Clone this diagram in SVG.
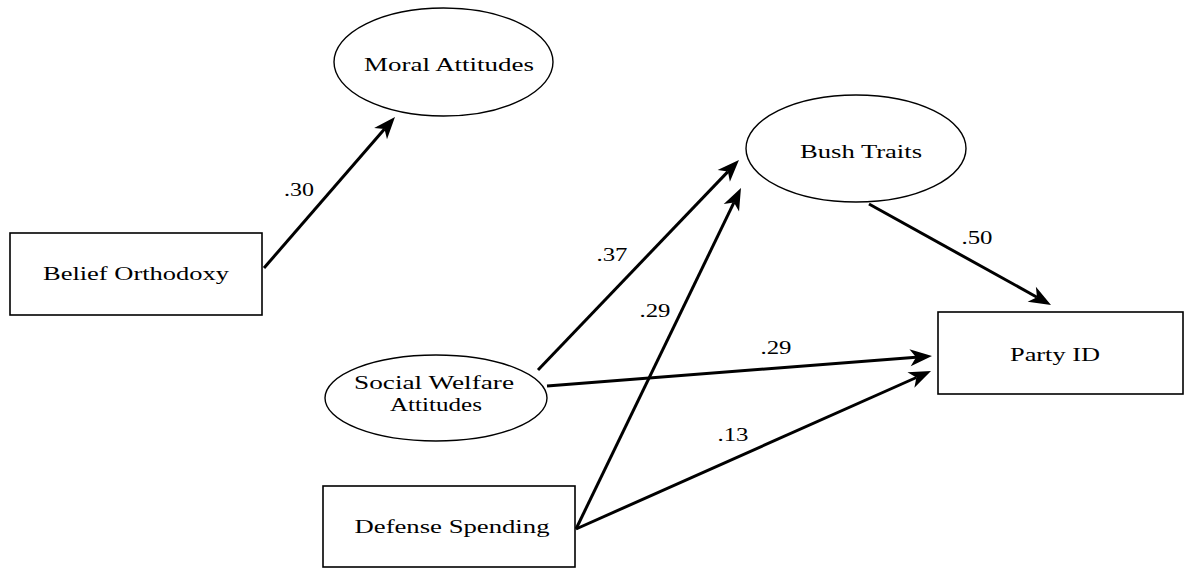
<svg xmlns="http://www.w3.org/2000/svg" width="1185" height="569" viewBox="0 0 1185 569">
  <style>
    .node { fill: #ffffff; stroke: #000000; }
    .ell { stroke-width: 1.4; }
    .box { stroke-width: 1.6; }
    .lbl { font-family: "Liberation Serif", "Times New Roman", serif; font-size: 19px; fill: #000000; text-anchor: middle; }
    .edge { stroke: #000000; stroke-width: 3; fill: none; marker-end: url(#arrow); }
  </style>
  <defs>
    <marker id="arrow" viewBox="-2 -10 26 20" markerWidth="26" markerHeight="20" refX="6" refY="0" orient="auto" markerUnits="userSpaceOnUse">
      <path d="M22,0 L0,-8.5 L6,0 L0,8.5 Z" fill="#000000"/>
    </marker>
  </defs>
  <rect width="1185" height="569" fill="#ffffff"/>

  <g id="connectors">
    <line class="edge" x1="264" y1="268" x2="384.5" y2="129.1"/>
    <line class="edge" x1="538" y1="370" x2="727.9" y2="171.6"/>
    <line class="edge" x1="576" y1="529" x2="734.0" y2="202.4"/>
    <line class="edge" x1="547" y1="386" x2="916.05" y2="357.24"/>
    <line class="edge" x1="576" y1="529" x2="916.4" y2="377.5"/>
    <line class="edge" x1="869" y1="204" x2="1037" y2="297.2"/>
    <text class="lbl" x="299" y="196" textLength="30" lengthAdjust="spacingAndGlyphs">.30</text>
    <text class="lbl" x="612" y="261" textLength="31" lengthAdjust="spacingAndGlyphs">.37</text>
    <text class="lbl" x="655" y="317" textLength="31" lengthAdjust="spacingAndGlyphs">.29</text>
    <text class="lbl" x="776" y="354" textLength="31" lengthAdjust="spacingAndGlyphs">.29</text>
    <text class="lbl" x="733" y="441" textLength="31" lengthAdjust="spacingAndGlyphs">.13</text>
    <text class="lbl" x="977" y="244" textLength="31" lengthAdjust="spacingAndGlyphs">.50</text>
  </g>

  <g id="moral-attitudes">
    <ellipse class="node ell" cx="443.5" cy="62" rx="109.5" ry="54"/>
    <text class="lbl" x="449" y="71" textLength="170" lengthAdjust="spacingAndGlyphs">Moral Attitudes</text>
  </g>

  <g id="belief-orthodoxy">
    <rect class="node box" x="10" y="233" width="252" height="82"/>
    <text class="lbl" x="136" y="280" textLength="186" lengthAdjust="spacingAndGlyphs">Belief Orthodoxy</text>
  </g>

  <g id="bush-traits">
    <ellipse class="node ell" cx="856" cy="148.5" rx="110" ry="53.5"/>
    <text class="lbl" x="861" y="158" textLength="122" lengthAdjust="spacingAndGlyphs">Bush Traits</text>
  </g>

  <g id="party-id">
    <rect class="node box" x="938" y="312" width="245" height="82"/>
    <text class="lbl" x="1055" y="361" textLength="90" lengthAdjust="spacingAndGlyphs">Party ID</text>
  </g>

  <g id="social-welfare-attitudes">
    <ellipse class="node ell" cx="436" cy="398" rx="111" ry="43"/>
    <text class="lbl" x="434" y="389" textLength="160" lengthAdjust="spacingAndGlyphs">Social Welfare</text>
    <text class="lbl" x="436" y="411" textLength="92" lengthAdjust="spacingAndGlyphs">Attitudes</text>
  </g>

  <g id="defense-spending">
    <rect class="node box" x="323" y="486" width="252" height="81"/>
    <text class="lbl" x="452" y="533" textLength="195" lengthAdjust="spacingAndGlyphs">Defense Spending</text>
  </g>
</svg>
